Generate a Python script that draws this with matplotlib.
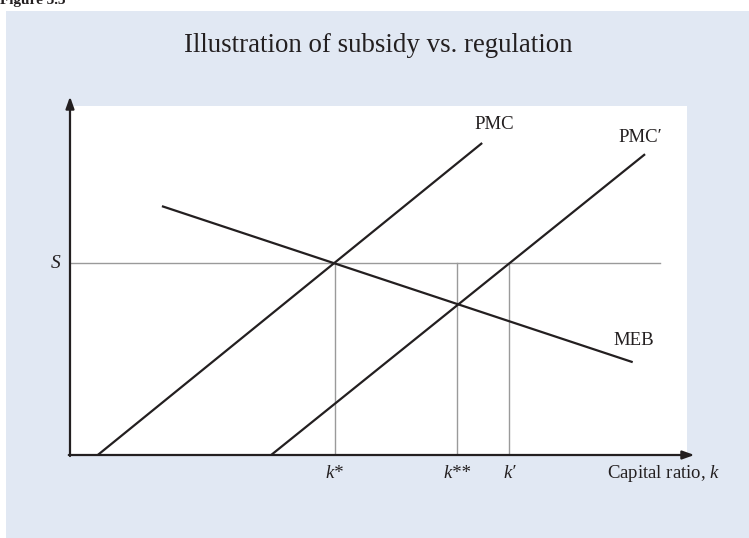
import matplotlib.pyplot as plt

# curve endpoints in data units (x: 0..10, y: 0..10)
pmc_x = [0.45, 6.68]
pmc_y = [0.0, 8.94]
pmc2_x = [3.26, 9.32]
pmc2_y = [0.0, 8.62]
meb_x = [1.49, 9.12]
meb_y = [7.13, 2.66]

s_level = 5.50
s_end = 9.56
k_vals = [4.29, 6.27, 7.12]
k_labels = ["k*", "k**", "k\u2032"]

curve_labels = ["PMC", "PMC\u2032", "MEB"]
curve_label_pos = [(6.87, 9.48), (9.25, 9.11), (9.14, 3.27)]

W, H = 749, 538
plt.rcParams["font.family"] = ["Liberation Serif", "DejaVu Serif"]
plt.rcParams["mathtext.fontset"] = "custom"
plt.rcParams["mathtext.rm"] = "Liberation Serif"
plt.rcParams["mathtext.it"] = "Liberation Serif:italic"
fig = plt.figure(figsize=(W / 100, H / 100), dpi=100)
fig.patch.set_facecolor("white")

# light blue panel behind the chart
bg = fig.add_axes([6 / W, 0, 1 - 6 / W, (H - 11) / H], zorder=0)
bg.set_facecolor("#e1e8f3")
bg.set_xticks([])
bg.set_yticks([])
for sp in bg.spines.values():
    sp.set_visible(False)

fig.text(0.0, 1 - 4 / H, "Figure 3.3", fontsize=11, fontweight="bold",
         ha="left", va="baseline", color="#231f20")
fig.text(378 / W, 1 - 45 / H, "Illustration of subsidy vs. regulation",
         fontsize=19.4, ha="center", va="center", color="#231f20", zorder=5)

ax = fig.add_axes([70 / W, (H - 455) / H, 617 / W, 349 / H], zorder=1)
ax.set_facecolor("white")
ax.set_xlim(0, 10)
ax.set_ylim(0, 10)
for sp in ax.spines.values():
    sp.set_visible(False)
ax.set_xticks([])
ax.set_yticks([])

dark = "#231f20"
grey = "#9a9a9a"

# reference lines
ax.plot([0, s_end], [s_level, s_level], color=grey, lw=1.0, zorder=1)
for k in k_vals:
    ax.plot([k, k], [0, s_level], color=grey, lw=1.0, zorder=1)

# curves
ax.plot(pmc_x, pmc_y, color=dark, lw=1.6, solid_capstyle="butt", zorder=2)
ax.plot(pmc2_x, pmc2_y, color=dark, lw=1.6, solid_capstyle="butt", zorder=2)
ax.plot(meb_x, meb_y, color=dark, lw=1.6, solid_capstyle="butt", zorder=2)

# axes with arrows
arrow = dict(arrowstyle="-|>,head_length=0.7,head_width=0.25", color=dark, lw=1.6,
             shrinkA=0, shrinkB=0)
ax.annotate("", xy=(0, 10.27), xytext=(0, -0.03), arrowprops=arrow,
            annotation_clip=False)
ax.annotate("", xy=(10.12, 0), xytext=(-0.02, 0), arrowprops=arrow,
            annotation_clip=False)

for (lx, ly), lab in zip(curve_label_pos, curve_labels):
    ax.text(lx, ly, lab, fontsize=13.5, ha="center", va="center", color=dark)

for k, lab in zip(k_vals, k_labels):
    ax.text(k, -0.52, lab, fontsize=13.5, style="italic", ha="center",
            va="center", color=dark, clip_on=False)

ax.text(-0.24, s_level, "S", fontsize=14, style="italic", ha="center",
        va="center", color=dark, clip_on=False)
ax.text(8.70, -0.52, "Capital ratio, $k$", fontsize=13.5, ha="left",
        va="center", color=dark, clip_on=False)

fig.savefig("out.png", dpi=100)
